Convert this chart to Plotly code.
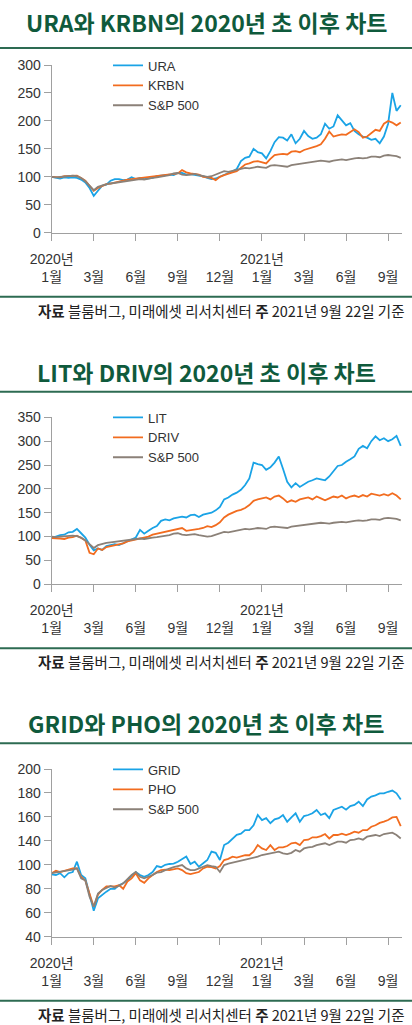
import plotly.graph_objects as go

# ---------------- data ----------------
# x positions in units of the (evenly spaced) month ticks
x_pos = [round(i * 0.1, 1) for i in range(84)]
x_tick_vals = [0, 1, 2, 3, 4, 5, 6, 7, 8]
x_tick_months = ["1월", "3월", "6월", "9월", "12월", "1월", "3월", "6월", "9월"]
x_tick_years = ["2020년", "", "", "", "", "2021년", "", "", ""]

ura = [100, 99, 97, 99, 98, 99, 98, 95, 90, 80,
       66, 75, 84, 86, 93, 96, 96, 94, 95, 99,
       96, 98, 96, 97, 98, 101, 102, 103, 104, 103,
       107, 107, 104, 105, 104, 103, 101, 98, 96, 97,
       100, 103, 107, 110, 114, 128, 134, 136, 150, 144,
       142, 133, 146, 162, 171, 170, 165, 176, 160, 168,
       182, 173, 168, 170, 176, 195, 186, 190, 210, 200,
       192, 196, 182, 176, 172, 170, 166, 168, 160, 172,
       195, 250, 218, 228]
krbn = [100, 100, 99, 101, 101, 102, 102, 98, 93, 84,
        75, 80, 84, 87, 88, 90, 92, 93, 95, 96,
        97, 98, 98, 99, 100, 101, 102, 103, 104, 105,
        106, 112, 108, 106, 105, 104, 100, 99, 98, 94,
        100, 103, 106, 108, 110, 116, 122, 124, 127, 128,
        126, 124, 132, 139, 140, 141, 140, 145, 146, 144,
        148, 150, 153, 155, 158, 168, 181, 172, 174, 176,
        175, 180, 185, 180, 170, 172, 178, 184, 182, 195,
        200, 197, 192, 197]
sp500 = [100, 99, 100, 101, 101, 102, 101, 98, 92, 84,
         76, 82, 85, 87, 88, 89, 90, 92, 93, 94,
         95, 96, 95, 97, 98, 99, 100, 101, 103, 106,
         107, 104, 103, 104, 105, 103, 102, 100, 101, 104,
         108, 110, 109, 111, 113, 114, 116, 115, 117, 118,
         117, 116, 120, 121, 120, 119, 118, 121, 122, 124,
         125, 125, 126, 128, 129, 128, 127, 129, 130, 131,
         130, 132, 133, 134, 133, 134, 136, 136, 135, 138,
         139, 138, 137, 134]
lit = [97, 100, 103, 104, 109, 110, 116, 107, 98, 83,
       71, 75, 72, 80, 82, 84, 82, 86, 90, 95,
       98, 114, 106, 112, 118, 122, 133, 136, 134, 138,
       140, 142, 140, 145, 146, 141, 146, 148, 150, 155,
       162, 178, 182, 188, 192, 198, 208, 222, 255, 252,
       250, 240, 245, 255, 268, 242, 215, 203, 212, 204,
       210, 215, 218, 222, 220, 218, 226, 238, 248, 250,
       257, 262, 268, 284, 290, 285, 300, 310, 302, 306,
       300, 304, 311, 290]
driv = [97, 97, 96, 95, 98, 99, 102, 97, 92, 66,
        63, 75, 72, 78, 80, 82, 84, 86, 90, 92,
        94, 96, 97, 100, 104, 106, 108, 110, 112, 114,
        115, 118, 112, 113, 114, 116, 118, 122, 120, 124,
        130, 140, 146, 150, 154, 156, 160, 166, 175, 178,
        180, 182, 178, 184, 186, 180, 172, 176, 173, 178,
        180, 182, 178, 184, 180, 176, 180, 184, 182, 186,
        180, 184, 186, 183, 187, 184, 190, 188, 186, 189,
        186, 191, 186, 178]
grid = [92, 91.5, 93, 89.6, 93, 94, 102.6, 91.5, 88.7, 76,
        61.7, 72, 75, 77.6, 80, 80, 83, 84.6, 87, 91,
        94, 91.5, 90, 91.5, 94, 99, 98, 100, 100.7, 101,
        102.6, 105, 107, 100.7, 102.6, 98.4, 101, 104, 111, 110,
        104, 116.5, 118.5, 122, 125, 126, 129, 129, 133, 141.6,
        137.4, 139, 134.7, 138, 139, 141.6, 136, 139.6, 143, 136,
        140.7, 141.6, 143, 145.8, 141.6, 143, 139, 145.8, 147, 148.5,
        146, 149, 150, 152.7, 149, 154.6, 157, 158, 159.7, 159.7,
        161, 162, 159.7, 154.6]
pho = [93, 95, 94, 95, 95.6, 97, 97, 90, 87, 76,
       65, 75, 79, 82, 82.3, 82, 83, 80, 86, 88.7,
       93, 87, 85, 88.7, 91.5, 94, 95.6, 96, 95.6, 96,
       97, 95.6, 93, 92.3, 93, 94, 97, 98.4, 98, 97,
       99, 104, 105, 106.8, 106, 107.3, 108, 108, 111, 116.5,
       113.7, 112.4, 116.5, 112.4, 114.6, 114.6, 115.7, 118, 118.5, 116.5,
       120.7, 121, 123, 123, 124, 125.7, 122, 124.9, 124.9, 126,
       124.9, 126, 127.7, 126.8, 129, 129, 131.8, 133, 135, 136,
       137.4, 139.6, 140, 132.4]
sp500_grid = [93, 93.5, 94, 95, 95.6, 96, 97, 88.7, 87, 73.4,
              65, 76, 79, 81, 82.3, 81, 82.3, 84.6, 88, 91.5,
              94, 90, 88.7, 90, 91.5, 93.5, 94, 95.6, 97, 98,
              99, 99.8, 97, 95.6, 95.6, 97, 98.4, 99.8, 99, 98.4,
              94, 99.8, 101, 101.8, 102.6, 103.4, 104.6, 105.4, 106.2, 106.8,
              108.2, 109, 109.6, 110, 111, 109.6, 109, 110, 112.4, 111,
              113.7, 114.6, 115, 116.5, 117.4, 118, 116.5, 118, 119.3, 119.3,
              118.5, 120.7, 121, 122, 121, 123.5, 124, 124.9, 124, 125.7,
              126.3, 126.8, 124.9, 122]

titles = ["URA와 KRBN의 2020년 초 이후 차트",
          "LIT와 DRIV의 2020년 초 이후 차트",
          "GRID와 PHO의 2020년 초 이후 차트"]
names1 = ["URA", "KRBN", "S&P 500"]
names2 = ["LIT", "DRIV", "S&P 500"]
names3 = ["GRID", "PHO", "S&P 500"]
y_ticks1 = [0, 50, 100, 150, 200, 250, 300]
y_ticks2 = [0, 50, 100, 150, 200, 250, 300, 350]
y_ticks3 = [40, 60, 80, 100, 120, 140, 160, 180]
y_labels3 = ["40", "60", "80", "100", "140", "160", "180", "200"]
source_text = "<b>자료</b> 블룸버그, 미래에셋 리서치센터 <b>주</b> 2021년 9월 22일 기준"

# ---------------- style ----------------
W, H = 412, 1025
BLUE, ORANGE, GRAY = "#1aa3e6", "#f26c1f", "#8b8178"
GREEN = "#0f5a3c"
RULE = "#2d6b52"
AXIS = "#a0a0a0"
FONT = "Liberation Sans, Noto Sans CJK KR, sans-serif"
KFONT = "Noto Sans CJK KR, sans-serif"


def fx(p):
    return p / W


def fy(p):
    return 1 - p / H


panels = [
    dict(title=titles[0], names=names1, data=[ura, krbn, sp500],
         yr=[0, 300], yt=y_ticks1, yl=[str(v) for v in y_ticks1],
         top=65, bottom=232.7, title_y=22, rule_y=48, leg_y=50.5),
    dict(title=titles[1], names=names2, data=[lit, driv, sp500],
         yr=[0, 350], yt=y_ticks2, yl=[str(v) for v in y_ticks2],
         top=417.3, bottom=584.3, title_y=372, rule_y=391.7, leg_y=402.5),
    dict(title=titles[2], names=names3, data=[grid, pho, sp500_grid],
         yr=[40, 180], yt=y_ticks3, yl=y_labels3,
         top=769, bottom=936.7, title_y=723, rule_y=743.3, leg_y=754.5),
]

tick_text = [(yr if yr else "\u00a0") + "<br>" + m for yr, m in zip(x_tick_years, x_tick_months)]

fig = go.Figure()
layout = dict(width=W, height=H, autosize=False,
              margin=dict(l=0, r=0, t=0, b=0, pad=0, autoexpand=False),
              paper_bgcolor="white", plot_bgcolor="white", showlegend=True)
shapes, annotations = [], []
colors = [BLUE, ORANGE, GRAY]

for i, p in enumerate(panels):
    n = "" if i == 0 else str(i + 1)
    leg = "legend" if i == 0 else "legend" + n
    for name, vals, c in zip(p["names"], p["data"], colors):
        fig.add_trace(go.Scatter(x=x_pos, y=vals, name=name, mode="lines",
                                 line=dict(color=c, width=1.8),
                                 xaxis="x" + n, yaxis="y" + n, legend=leg,
                                 hoverinfo="skip"))
    layout["xaxis" + n] = dict(domain=[fx(51.7), fx(402)], range=[0, 8.33],
                               anchor="y" + n, showgrid=False, zeroline=False,
                               showline=True, linecolor=AXIS, linewidth=1,
                               ticks="outside", ticklen=7, tickcolor=AXIS,
                               tickvals=x_tick_vals, ticktext=tick_text,
                               ticklabelstandoff=6,
                               tickfont=dict(family=FONT, size=14, color="#333"),
                               automargin=False, fixedrange=True)
    layout["yaxis" + n] = dict(domain=[fy(p["bottom"]), fy(p["top"])], range=p["yr"],
                               anchor="x" + n, showgrid=False, zeroline=False,
                               showline=True, linecolor=AXIS, linewidth=1,
                               ticks="outside", ticklen=7, tickcolor=AXIS,
                               tickvals=p["yt"], ticktext=p["yl"],
                               tickfont=dict(family=FONT, size=14, color="#333"),
                               automargin=False, fixedrange=True)
    layout[leg] = dict(x=fx(108), y=fy(p["leg_y"]), xanchor="left", yanchor="top",
                       bgcolor="rgba(0,0,0,0)", font=dict(family=FONT, size=13, color="#333"),
                       tracegroupgap=0, itemwidth=30)
    annotations.append(dict(text="<b>" + p["title"] + "</b>", x=0.5, y=fy(p["title_y"]),
                            xref="paper", yref="paper", xanchor="center", yanchor="middle",
                            showarrow=False, font=dict(family=KFONT, size=23, color=GREEN)))
    annotations.append(dict(text=source_text, x=fx(407), y=fy(p["bottom"] + 77.5),
                            xref="paper", yref="paper", xanchor="right", yanchor="middle",
                            showarrow=False, font=dict(family=KFONT, size=14.5, color="#222")))
    for yy in (p["rule_y"], p["bottom"] + 64):
        shapes.append(dict(type="line", xref="paper", yref="paper", x0=0, x1=1,
                           y0=fy(yy), y1=fy(yy), line=dict(color=RULE, width=2)))

layout["shapes"] = shapes
layout["annotations"] = annotations
fig.update_layout(**layout)
fig.write_html("out.html",
               config={"displayModeBar": False, "staticPlot": True},
               post_script="document.body.style.margin='0';document.body.style.overflow='hidden';")
